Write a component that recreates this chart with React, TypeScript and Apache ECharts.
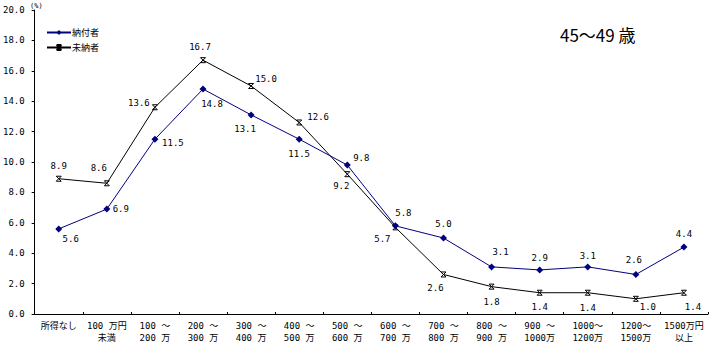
import React, { useEffect, useRef } from "react";
import * as echarts from "echarts";

const categories = [
  "所得なし",
  "100 万円\n未満",
  "100 ～\n200 万",
  "200 ～\n300 万",
  "300 ～\n400 万",
  "400 ～\n500 万",
  "500 ～\n600 万",
  "600 ～\n700 万",
  "700 ～\n800 万",
  "800 ～\n900 万",
  "900 ～\n1000万",
  "1000～\n1200万",
  "1200～\n1500万",
  "1500万円\n以上",
];

const paidValues = [5.6, 6.9, 11.5, 14.8, 13.1, 11.5, 9.8, 5.8, 5.0, 3.1, 2.9, 3.1, 2.6, 4.4];
const unpaidValues = [8.9, 8.6, 13.6, 16.7, 15.0, 12.6, 9.2, 5.7, 2.6, 1.8, 1.4, 1.4, 1.0, 1.4];

const paidLabelOffsets = [
  [12, 10], [14, 0], [18, 4], [9, 15], [-6, 14], [0, 15], [14, -7],
  [8, -13], [0, -14], [9, -15], [0, -12], [0, -11], [-2, -14], [0, -13],
];
const unpaidLabelOffsets = [
  [0, -13], [-8, -15], [-16, -4], [-3, -13], [15, -7], [19, -5], [-6, 12],
  [-13, 12], [-8, 14], [0, 15], [0, 14], [0, 15], [12, 8], [9, 14],
];

const seriesNames = ["納付者", "未納者"];
const yTicks = { min: 0, max: 20, interval: 2 };

const FONT = "'DejaVu Sans Mono', 'Noto Sans CJK JP', monospace";
const BLUE = "#000080";
const STAR = "path://M0,0L8,0M0,8L8,8M0,0L8,8M8,0L0,8";

function withLabels(values: number[], offsets: number[][]) {
  return values.map((v, i) => ({
    value: v,
    label: {
      show: true,
      position: "inside",
      offset: offsets[i],
      formatter: v.toFixed(1),
    },
  }));
}

export default function App() {
  const ref = useRef<HTMLDivElement>(null);
  useEffect(() => {
    if (!ref.current) return;
    const chart = echarts.init(ref.current, null, { renderer: "svg" });
    chart.setOption({
      animation: false,
      backgroundColor: "#ffffff",
      grid: { left: 33, right: 7, top: 10, bottom: 48, containLabel: false },
      legend: {
        orient: "vertical",
        left: 41,
        top: 23,
        itemGap: 6,
        itemWidth: 24,
        itemHeight: 6,
        data: seriesNames,
        textStyle: { fontSize: 9, fontFamily: FONT, color: "#000", padding: [0, 0, 0, -4] },
      },
      graphic: [
        {
          type: "text",
          left: 560,
          top: 26,
          style: {
            text: "45～49 歳",
            font: "17px 'Noto Sans CJK JP', sans-serif",
            fill: "#000",
          },
        },
        {
          type: "text",
          left: 30,
          top: 2,
          style: { text: "(%)", font: "7px " + FONT, fill: "#000" },
        },
      ],
      xAxis: {
        type: "category",
        data: categories,
        boundaryGap: true,
        axisLine: { lineStyle: { color: "#000", width: 1 } },
        axisTick: { show: true, inside: true, length: 2, lineStyle: { color: "#000" } },
        axisLabel: {
          interval: 0,
          margin: 6,
          fontSize: 9,
          lineHeight: 12,
          fontFamily: FONT,
          color: "#000",
        },
        splitLine: { show: false },
      },
      yAxis: {
        type: "value",
        min: yTicks.min,
        max: yTicks.max,
        interval: yTicks.interval,
        axisLine: { show: true, lineStyle: { color: "#000", width: 1 } },
        axisTick: { show: true, length: 3, lineStyle: { color: "#000" } },
        axisLabel: {
          formatter: (v: number) => v.toFixed(1),
          fontSize: 9,
          fontFamily: FONT,
          color: "#000",
          margin: 10,
        },
        splitLine: { show: false },
      },
      series: [
        {
          name: seriesNames[0],
          type: "line",
          data: withLabels(paidValues, paidLabelOffsets),
          symbol: "diamond",
          symbolSize: 7,
          lineStyle: { color: BLUE, width: 1 },
          itemStyle: { color: BLUE },
          label: { fontSize: 9, fontFamily: FONT, color: "#000" },
          z: 3,
        },
        {
          name: seriesNames[1],
          type: "line",
          data: withLabels(unpaidValues, unpaidLabelOffsets),
          symbol: STAR,
          symbolSize: 5,
          lineStyle: { color: "#000", width: 1 },
          itemStyle: { color: "#000", borderColor: "#000", borderWidth: 1 },
          label: { fontSize: 9, fontFamily: FONT, color: "#000" },
          z: 2,
        },
      ],
    });
    return () => chart.dispose();
  }, []);
  return (
    <div
      ref={ref}
      style={{ position: "fixed", left: 0, top: 0, width: 715, height: 362 }}
    />
  );
}
